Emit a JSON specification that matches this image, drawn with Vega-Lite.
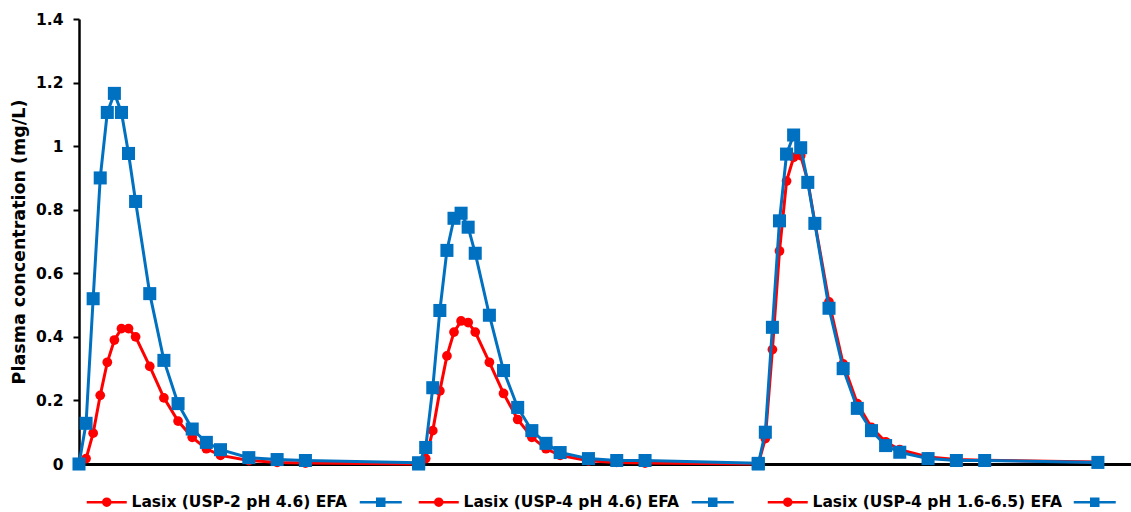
{
  "$schema": "https://vega.github.io/schema/vega-lite/v6.json",
  "width": 1052,
  "height": 445,
  "autosize": {"type": "none"},
  "padding": {"left": 79, "top": 19, "right": 0, "bottom": 48},
  "background": "white",
  "config": {"view": {"stroke": null}, "font": "DejaVu Sans"},
  "data": {"values": [
    {"series": "Lasix (USP-2 pH 4.6) EFA", "kind": "Lasix", "t": 0, "c": 0},
    {"series": "Lasix (USP-2 pH 4.6) EFA", "kind": "Lasix", "t": 0.25, "c": 0.017},
    {"series": "Lasix (USP-2 pH 4.6) EFA", "kind": "Lasix", "t": 0.5, "c": 0.097},
    {"series": "Lasix (USP-2 pH 4.6) EFA", "kind": "Lasix", "t": 0.75, "c": 0.216},
    {"series": "Lasix (USP-2 pH 4.6) EFA", "kind": "Lasix", "t": 1, "c": 0.32},
    {"series": "Lasix (USP-2 pH 4.6) EFA", "kind": "Lasix", "t": 1.25, "c": 0.39},
    {"series": "Lasix (USP-2 pH 4.6) EFA", "kind": "Lasix", "t": 1.5, "c": 0.426},
    {"series": "Lasix (USP-2 pH 4.6) EFA", "kind": "Lasix", "t": 1.75, "c": 0.426},
    {"series": "Lasix (USP-2 pH 4.6) EFA", "kind": "Lasix", "t": 2, "c": 0.4},
    {"series": "Lasix (USP-2 pH 4.6) EFA", "kind": "Lasix", "t": 2.5, "c": 0.307},
    {"series": "Lasix (USP-2 pH 4.6) EFA", "kind": "Lasix", "t": 3, "c": 0.208},
    {"series": "Lasix (USP-2 pH 4.6) EFA", "kind": "Lasix", "t": 3.5, "c": 0.135},
    {"series": "Lasix (USP-2 pH 4.6) EFA", "kind": "Lasix", "t": 4, "c": 0.084},
    {"series": "Lasix (USP-2 pH 4.6) EFA", "kind": "Lasix", "t": 4.5, "c": 0.048},
    {"series": "Lasix (USP-2 pH 4.6) EFA", "kind": "Lasix", "t": 5, "c": 0.027},
    {"series": "Lasix (USP-2 pH 4.6) EFA", "kind": "Lasix", "t": 6, "c": 0.011},
    {"series": "Lasix (USP-2 pH 4.6) EFA", "kind": "Lasix", "t": 7, "c": 0.005},
    {"series": "Lasix (USP-2 pH 4.6) EFA", "kind": "Lasix", "t": 8, "c": 0.003},
    {"series": "Lasix (USP-2 pH 4.6) EFA", "kind": "Lasix", "t": 12, "c": 0},
    {"series": "EFA 1", "kind": "EFA", "t": 0, "c": 0},
    {"series": "EFA 1", "kind": "EFA", "t": 0.25, "c": 0.128},
    {"series": "EFA 1", "kind": "EFA", "t": 0.5, "c": 0.52},
    {"series": "EFA 1", "kind": "EFA", "t": 0.75, "c": 0.9},
    {"series": "EFA 1", "kind": "EFA", "t": 1, "c": 1.106},
    {"series": "EFA 1", "kind": "EFA", "t": 1.25, "c": 1.166},
    {"series": "EFA 1", "kind": "EFA", "t": 1.5, "c": 1.106},
    {"series": "EFA 1", "kind": "EFA", "t": 1.75, "c": 0.977},
    {"series": "EFA 1", "kind": "EFA", "t": 2, "c": 0.826},
    {"series": "EFA 1", "kind": "EFA", "t": 2.5, "c": 0.536},
    {"series": "EFA 1", "kind": "EFA", "t": 3, "c": 0.326},
    {"series": "EFA 1", "kind": "EFA", "t": 3.5, "c": 0.19},
    {"series": "EFA 1", "kind": "EFA", "t": 4, "c": 0.11},
    {"series": "EFA 1", "kind": "EFA", "t": 4.5, "c": 0.068},
    {"series": "EFA 1", "kind": "EFA", "t": 5, "c": 0.045},
    {"series": "EFA 1", "kind": "EFA", "t": 6, "c": 0.02},
    {"series": "EFA 1", "kind": "EFA", "t": 7, "c": 0.014},
    {"series": "EFA 1", "kind": "EFA", "t": 8, "c": 0.011},
    {"series": "EFA 1", "kind": "EFA", "t": 12, "c": 0.004},
    {"series": "Lasix (USP-4 pH 4.6) EFA", "kind": "Lasix", "t": 12, "c": 0},
    {"series": "Lasix (USP-4 pH 4.6) EFA", "kind": "Lasix", "t": 12.25, "c": 0.017},
    {"series": "Lasix (USP-4 pH 4.6) EFA", "kind": "Lasix", "t": 12.5, "c": 0.105},
    {"series": "Lasix (USP-4 pH 4.6) EFA", "kind": "Lasix", "t": 12.75, "c": 0.23},
    {"series": "Lasix (USP-4 pH 4.6) EFA", "kind": "Lasix", "t": 13, "c": 0.34},
    {"series": "Lasix (USP-4 pH 4.6) EFA", "kind": "Lasix", "t": 13.25, "c": 0.415},
    {"series": "Lasix (USP-4 pH 4.6) EFA", "kind": "Lasix", "t": 13.5, "c": 0.45},
    {"series": "Lasix (USP-4 pH 4.6) EFA", "kind": "Lasix", "t": 13.75, "c": 0.445},
    {"series": "Lasix (USP-4 pH 4.6) EFA", "kind": "Lasix", "t": 14, "c": 0.415},
    {"series": "Lasix (USP-4 pH 4.6) EFA", "kind": "Lasix", "t": 14.5, "c": 0.32},
    {"series": "Lasix (USP-4 pH 4.6) EFA", "kind": "Lasix", "t": 15, "c": 0.222},
    {"series": "Lasix (USP-4 pH 4.6) EFA", "kind": "Lasix", "t": 15.5, "c": 0.14},
    {"series": "Lasix (USP-4 pH 4.6) EFA", "kind": "Lasix", "t": 16, "c": 0.084},
    {"series": "Lasix (USP-4 pH 4.6) EFA", "kind": "Lasix", "t": 16.5, "c": 0.048},
    {"series": "Lasix (USP-4 pH 4.6) EFA", "kind": "Lasix", "t": 17, "c": 0.027},
    {"series": "Lasix (USP-4 pH 4.6) EFA", "kind": "Lasix", "t": 18, "c": 0.01},
    {"series": "Lasix (USP-4 pH 4.6) EFA", "kind": "Lasix", "t": 19, "c": 0.005},
    {"series": "Lasix (USP-4 pH 4.6) EFA", "kind": "Lasix", "t": 20, "c": 0.003},
    {"series": "Lasix (USP-4 pH 4.6) EFA", "kind": "Lasix", "t": 24, "c": 0},
    {"series": "EFA 2", "kind": "EFA", "t": 12, "c": 0},
    {"series": "EFA 2", "kind": "EFA", "t": 12.25, "c": 0.052},
    {"series": "EFA 2", "kind": "EFA", "t": 12.5, "c": 0.24},
    {"series": "EFA 2", "kind": "EFA", "t": 12.75, "c": 0.483},
    {"series": "EFA 2", "kind": "EFA", "t": 13, "c": 0.672},
    {"series": "EFA 2", "kind": "EFA", "t": 13.25, "c": 0.773},
    {"series": "EFA 2", "kind": "EFA", "t": 13.5, "c": 0.789},
    {"series": "EFA 2", "kind": "EFA", "t": 13.75, "c": 0.745},
    {"series": "EFA 2", "kind": "EFA", "t": 14, "c": 0.663},
    {"series": "EFA 2", "kind": "EFA", "t": 14.5, "c": 0.468},
    {"series": "EFA 2", "kind": "EFA", "t": 15, "c": 0.294},
    {"series": "EFA 2", "kind": "EFA", "t": 15.5, "c": 0.178},
    {"series": "EFA 2", "kind": "EFA", "t": 16, "c": 0.105},
    {"series": "EFA 2", "kind": "EFA", "t": 16.5, "c": 0.065},
    {"series": "EFA 2", "kind": "EFA", "t": 17, "c": 0.036},
    {"series": "EFA 2", "kind": "EFA", "t": 18, "c": 0.017},
    {"series": "EFA 2", "kind": "EFA", "t": 19, "c": 0.011},
    {"series": "EFA 2", "kind": "EFA", "t": 20, "c": 0.011},
    {"series": "EFA 2", "kind": "EFA", "t": 24, "c": 0.002},
    {"series": "Lasix (USP-4 pH 1.6-6.5) EFA", "kind": "Lasix", "t": 24, "c": 0},
    {"series": "Lasix (USP-4 pH 1.6-6.5) EFA", "kind": "Lasix", "t": 24.25, "c": 0.08},
    {"series": "Lasix (USP-4 pH 1.6-6.5) EFA", "kind": "Lasix", "t": 24.5, "c": 0.36},
    {"series": "Lasix (USP-4 pH 1.6-6.5) EFA", "kind": "Lasix", "t": 24.75, "c": 0.67},
    {"series": "Lasix (USP-4 pH 1.6-6.5) EFA", "kind": "Lasix", "t": 25, "c": 0.89},
    {"series": "Lasix (USP-4 pH 1.6-6.5) EFA", "kind": "Lasix", "t": 25.25, "c": 0.965},
    {"series": "Lasix (USP-4 pH 1.6-6.5) EFA", "kind": "Lasix", "t": 25.5, "c": 0.97},
    {"series": "Lasix (USP-4 pH 1.6-6.5) EFA", "kind": "Lasix", "t": 25.75, "c": 0.89},
    {"series": "Lasix (USP-4 pH 1.6-6.5) EFA", "kind": "Lasix", "t": 26, "c": 0.76},
    {"series": "Lasix (USP-4 pH 1.6-6.5) EFA", "kind": "Lasix", "t": 26.5, "c": 0.51},
    {"series": "Lasix (USP-4 pH 1.6-6.5) EFA", "kind": "Lasix", "t": 27, "c": 0.315},
    {"series": "Lasix (USP-4 pH 1.6-6.5) EFA", "kind": "Lasix", "t": 27.5, "c": 0.19},
    {"series": "Lasix (USP-4 pH 1.6-6.5) EFA", "kind": "Lasix", "t": 28, "c": 0.115},
    {"series": "Lasix (USP-4 pH 1.6-6.5) EFA", "kind": "Lasix", "t": 28.5, "c": 0.07},
    {"series": "Lasix (USP-4 pH 1.6-6.5) EFA", "kind": "Lasix", "t": 29, "c": 0.045},
    {"series": "Lasix (USP-4 pH 1.6-6.5) EFA", "kind": "Lasix", "t": 30, "c": 0.022},
    {"series": "Lasix (USP-4 pH 1.6-6.5) EFA", "kind": "Lasix", "t": 31, "c": 0.014},
    {"series": "Lasix (USP-4 pH 1.6-6.5) EFA", "kind": "Lasix", "t": 32, "c": 0.012},
    {"series": "Lasix (USP-4 pH 1.6-6.5) EFA", "kind": "Lasix", "t": 36, "c": 0.006},
    {"series": "EFA 3", "kind": "EFA", "t": 24, "c": 0},
    {"series": "EFA 3", "kind": "EFA", "t": 24.25, "c": 0.1},
    {"series": "EFA 3", "kind": "EFA", "t": 24.5, "c": 0.43},
    {"series": "EFA 3", "kind": "EFA", "t": 24.75, "c": 0.765},
    {"series": "EFA 3", "kind": "EFA", "t": 25, "c": 0.975},
    {"series": "EFA 3", "kind": "EFA", "t": 25.25, "c": 1.035},
    {"series": "EFA 3", "kind": "EFA", "t": 25.5, "c": 0.995},
    {"series": "EFA 3", "kind": "EFA", "t": 25.75, "c": 0.886},
    {"series": "EFA 3", "kind": "EFA", "t": 26, "c": 0.757},
    {"series": "EFA 3", "kind": "EFA", "t": 26.5, "c": 0.49},
    {"series": "EFA 3", "kind": "EFA", "t": 27, "c": 0.3},
    {"series": "EFA 3", "kind": "EFA", "t": 27.5, "c": 0.175},
    {"series": "EFA 3", "kind": "EFA", "t": 28, "c": 0.105},
    {"series": "EFA 3", "kind": "EFA", "t": 28.5, "c": 0.058},
    {"series": "EFA 3", "kind": "EFA", "t": 29, "c": 0.037},
    {"series": "EFA 3", "kind": "EFA", "t": 30, "c": 0.017},
    {"series": "EFA 3", "kind": "EFA", "t": 31, "c": 0.011},
    {"series": "EFA 3", "kind": "EFA", "t": 32, "c": 0.011},
    {"series": "EFA 3", "kind": "EFA", "t": 36, "c": 0.005}
  ]},
  "encoding": {
    "x": {
      "field": "t", "type": "quantitative",
      "scale": {"domain": [0, 37.17], "nice": false, "zero": false},
      "axis": {"title": null, "labels": false, "ticks": false, "grid": false, "domainColor": "black", "domainWidth": 3}
    },
    "y": {
      "field": "c", "type": "quantitative",
      "scale": {"domain": [0, 1.4], "nice": false},
      "axis": {
        "title": "Plasma concentration (mg/L)",
        "values": [0, 0.2, 0.4, 0.6, 0.8, 1, 1.2, 1.4],
        "format": "~g",
        "grid": false,
        "domainColor": "black", "domainWidth": 2.5,
        "tickColor": "black", "tickWidth": 2, "tickSize": 6,
        "labelFont": "DejaVu Sans", "labelFontWeight": "bold", "labelFontSize": 15.5, "labelColor": "black", "labelPadding": 10,
        "titleFont": "DejaVu Sans", "titleFontWeight": "bold", "titleFontSize": 17.5, "titleColor": "black", "titlePadding": 7
      }
    },
    "color": {
      "field": "series", "type": "nominal",
      "scale": {
        "domain": ["Lasix (USP-2 pH 4.6) EFA", "EFA 1", "Lasix (USP-4 pH 4.6) EFA", "EFA 2", "Lasix (USP-4 pH 1.6-6.5) EFA", "EFA 3"],
        "range": ["#FF0000", "#0070C0", "#FF0000", "#0070C0", "#FF0000", "#0070C0"]
      },
      "legend": {
        "title": null,
        "orient": "none",
        "legendX": 20,
        "legendY": 475,
        "direction": "horizontal",
        "columns": 6,
        "columnPadding": 6,
        "padding": 0,
        "symbolSize": 100,
        "labelOffset": 17,
        "labelLimit": 400,
        "labelFont": "DejaVu Sans",
        "labelFontWeight": "bold",
        "labelFontSize": 15.5,
        "labelColor": "black",
        "labelExpr": "datum.label == 'EFA 2' ? '...' : (indexof(datum.label, 'Lasix') == 0 ? datum.label : '')",
        "encode": {
          "labels": {
            "update": {
              "fill": {"signal": "datum.value == 'EFA 2' ? 'transparent' : 'black'"}
            }
          },
          "symbols": {
            "update": {
              "shape": {"signal": "indexof(datum.value, 'Lasix') == 0 ? 'M-4,0H4M-0.7,0A0.7,0.7,0,1,1,0.7,0A0.7,0.7,0,1,1,-0.7,0Z' : 'M-4.2,0H4.2M-0.7,-0.7H0.7V0.7H-0.7Z'"},
              "fill": {"scale": "color", "field": "value"},
              "stroke": {"scale": "color", "field": "value"},
              "strokeWidth": {"value": 2.5},
              "opacity": {"value": 1}
            }
          }
        }
      }
    }
  },
  "layer": [
    {"transform": [{"filter": "datum.kind == 'Lasix'"}], "mark": {"type": "line", "strokeWidth": 3}},
    {"transform": [{"filter": "datum.kind == 'Lasix'"}], "mark": {"type": "point", "shape": "circle", "filled": true, "size": 95, "opacity": 1}},
    {"transform": [{"filter": "datum.kind == 'EFA'"}], "mark": {"type": "line", "strokeWidth": 3}},
    {"transform": [{"filter": "datum.kind == 'EFA'"}], "mark": {"type": "point", "shape": "square", "filled": true, "size": 170, "opacity": 1}}
  ]
}
